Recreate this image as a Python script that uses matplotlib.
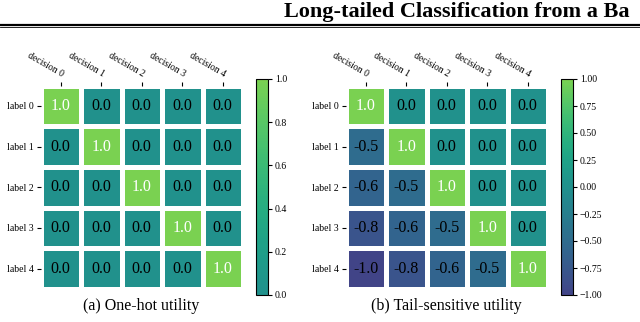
import numpy as np
import matplotlib
matplotlib.use("Agg")
import matplotlib.pyplot as plt
from matplotlib.colors import ListedColormap, Normalize
from matplotlib.lines import Line2D

plt.rcParams['font.family'] = ['Liberation Serif', 'DejaVu Serif']

decisions = ["decision 0", "decision 1", "decision 2", "decision 3", "decision 4"]
labels = ["label 0", "label 1", "label 2", "label 3", "label 4"]

onehot = [[1.0, 0.0, 0.0, 0.0, 0.0],
          [0.0, 1.0, 0.0, 0.0, 0.0],
          [0.0, 0.0, 1.0, 0.0, 0.0],
          [0.0, 0.0, 0.0, 1.0, 0.0],
          [0.0, 0.0, 0.0, 0.0, 1.0]]

tail = [[1.0, 0.0, 0.0, 0.0, 0.0],
        [-0.5, 1.0, 0.0, 0.0, 0.0],
        [-0.6, -0.5, 1.0, 0.0, 0.0],
        [-0.8, -0.6, -0.5, 1.0, 0.0],
        [-1.0, -0.8, -0.6, -0.5, 1.0]]

captions = ["(a) One-hot utility", "(b) Tail-sensitive utility"]
header = "Long-tailed Classification from a Ba"

vir = plt.get_cmap("viridis")
cmap_left = ListedColormap(vir(np.linspace(0.5, 0.8, 256)))
cmap_right = ListedColormap(vir(np.linspace(0.2, 0.8, 256)))

W, H = 640, 322
fig = plt.figure(figsize=(W / 100, H / 100), dpi=100)

def fx(px):
    return px / W

def fy(py):
    return 1 - py / H

panels = [
    dict(data=onehot, cmap=cmap_left, vmin=0.0, vmax=1.0, ax_x=40.5, cb_x=256,
         ticks=[0.0, 0.2, 0.4, 0.6, 0.8, 1.0], fmt="{:.1f}", cap=captions[0]),
    dict(data=tail, cmap=cmap_right, vmin=-1.0, vmax=1.0, ax_x=345.5, cb_x=561,
         ticks=[-1.0, -0.75, -0.5, -0.25, 0.0, 0.25, 0.5, 0.75, 1.0], fmt="{:.2f}", cap=captions[1]),
]

ax_top, ax_bot = 85.5, 289
cb_top, cb_bot = 79, 295

for p in panels:
    data = np.array(p["data"])
    ax = fig.add_axes([fx(p["ax_x"]), fy(ax_bot), fx(202.5), (ax_bot - ax_top) / H])
    norm = Normalize(p["vmin"], p["vmax"])
    mesh = ax.pcolormesh(np.arange(6), np.arange(6), data, cmap=p["cmap"], norm=norm,
                         edgecolor="white", linewidth=2.5)
    ax.set_xlim(0, 5)
    ax.set_ylim(5, 0)
    for s in ax.spines.values():
        s.set_visible(False)
    ax.xaxis.tick_top()
    ax.set_xticks(np.arange(5) + 0.5)
    ax.set_xticklabels(decisions, rotation=-30, ha="right", va="bottom",
                       rotation_mode="anchor", fontsize=7)
    ax.set_yticks(np.arange(5) + 0.5)
    ax.set_yticklabels(labels, fontsize=7)
    ax.tick_params(length=3, width=0.8, pad=2)
    for i in range(5):
        for j in range(5):
            v = data[i, j]
            ax.text(j + 0.5, i + 0.5, f"{v:.1f}", ha="center", va="center",
                    fontsize=11.5, color="white" if v >= 1.0 else "black")
    cax = fig.add_axes([fx(p["cb_x"]), fy(cb_bot), fx(12), (cb_bot - cb_top) / H])
    cb = fig.colorbar(mesh, cax=cax)
    cb.set_ticks(p["ticks"])
    cb.set_ticklabels([p["fmt"].format(t).replace("-", "\u2212") for t in p["ticks"]])
    cax.tick_params(labelsize=7, length=3, width=0.8, pad=2)
    cb.outline.set_linewidth(0.8)
    fig.text(fx(p["ax_x"] + 101), fy(306), p["cap"], ha="center", va="center", fontsize=11.5)

fig.text(fx(284), fy(17), header, ha="left", va="baseline", fontsize=16, fontweight="bold")
fig.add_artist(Line2D([0, 1], [fy(24.5), fy(24.5)], color="black", linewidth=1.6,
                      transform=fig.transFigure))
fig.add_artist(Line2D([0, 1], [fy(26.5), fy(26.5)], color="black", linewidth=0.6,
                      transform=fig.transFigure))

fig.savefig("out.png", dpi=100)
